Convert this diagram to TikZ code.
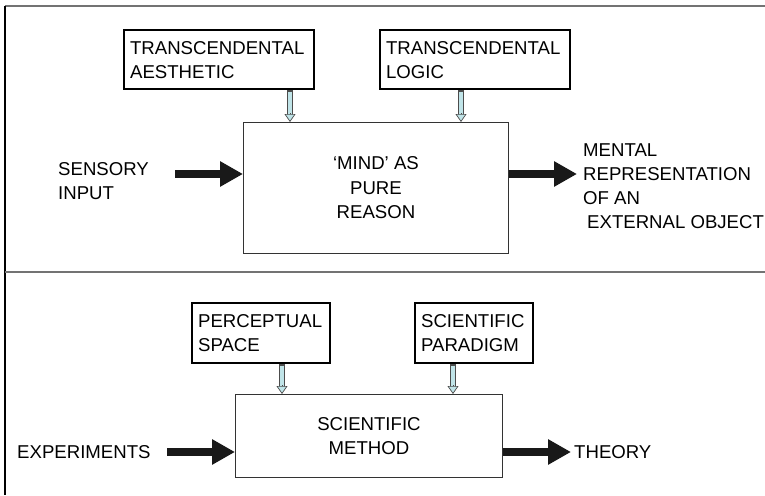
\documentclass[tikz,border=0pt]{standalone}
\usepackage{fontspec}
\setmainfont{Liberation Sans}
\usetikzlibrary{arrows.meta,calc}

\definecolor{framegray}{gray}{0.45}
\definecolor{paleblue}{RGB}{192,228,232}
\definecolor{tipedge}{gray}{0.3}

\tikzset{
  lbl/.style={font=\fontsize{18.6}{24}\selectfont, inner sep=0pt, align=left},
  topbox/.style={lbl, draw=black, line width=2.2pt, anchor=north west,
    inner xsep=6pt, inner ysep=0pt},
  procbox/.style={draw=black!80, line width=0.9pt, anchor=north west,
    inner sep=0pt, align=center, font=\fontsize{18.6}{24.5}\selectfont},
  bigarrow/.style={line width=8pt, draw=black!90,
    -{Triangle[length=23pt,width=24pt]}},
  frameline/.style={line width=2pt},
  shaftout/.style={line width=6.5pt, draw=tipedge, shorten >=7pt},
  shaftin/.style={line width=4pt, draw=paleblue, shorten >=6pt, shorten <=1.3pt},
  feedtip/.style={line width=0.7pt, draw=tipedge,
    -{Triangle[length=8pt,width=11pt,fill=paleblue]}}
}

\newcommand\feedarrow[2]{%
  \draw[shaftout] (#1) -- (#2);
  \draw[shaftin] (#1) -- (#2);
  \draw[feedtip] ($(#2)+(0,-9)$) -- (#2);}

\begin{document}
\begin{tikzpicture}[x=1pt,y=-1pt]
\useasboundingbox (0,0) rectangle (765,495);

% frame and divider
\draw[frameline, framegray] (5,6) -- (765,6);
\draw[frameline, black] (5,6) -- (5,495);
\draw[frameline, framegray] (5,272) -- (765,272);

% ---- upper panel ----
\node[topbox, text width=178pt, minimum height=59pt] (ta) at (123,29)
  {TRANSCENDENTAL\\AESTHETIC};
\node[topbox, text width=178pt, minimum height=59pt] (tl) at (379,29)
  {TRANSCENDENTAL\\LOGIC};
\node[procbox, minimum width=265pt, minimum height=131pt] (mind) at (243,122)
  {`MIND' AS\\PURE\\REASON};

\path (mind.north west) ++(47,0) coordinate (m1);
\path (mind.north west) ++(218,0) coordinate (m2);
\feedarrow{m1 |- ta.south}{m1}
\feedarrow{m2 |- tl.south}{m2}

\node[lbl, anchor=west] (sens) at (58,181) {SENSORY\\INPUT};
\coordinate (sin) at (175,174);
\draw[bigarrow] (sin) -- (sin -| mind.west);

\node[lbl, anchor=west] (rep) at (583,186)
  {MENTAL\\REPRESENTATION\\OF AN\\\hspace*{4pt}EXTERNAL OBJECT};
\coordinate (sout) at (577,174);
\draw[bigarrow] (sout -| mind.east) -- (sout);

% ---- lower panel ----
\node[topbox, text width=126pt, minimum height=60pt] (ps) at (191,302)
  {PERCEPTUAL\\SPACE};
\node[topbox, text width=106pt, minimum height=60pt] (sp) at (414,302)
  {SCIENTIFIC\\PARADIGM};
\node[procbox, minimum width=267pt, minimum height=83pt] (method) at (235,394)
  {SCIENTIFIC\\METHOD};

\path (method.north west) ++(47,0) coordinate (p1);
\path (method.north west) ++(218,0) coordinate (p2);
\feedarrow{p1 |- ps.south}{p1}
\feedarrow{p2 |- sp.south}{p2}

\node[lbl, anchor=west] (exp) at (17,452) {EXPERIMENTS};
\coordinate (ein) at (167,452);
\draw[bigarrow] (ein) -- (ein -| method.west);

\node[lbl, anchor=west] (theory) at (574,452) {THEORY};
\coordinate (tout) at (571,452);
\draw[bigarrow] (tout -| method.east) -- (tout);
\end{tikzpicture}
\end{document}
